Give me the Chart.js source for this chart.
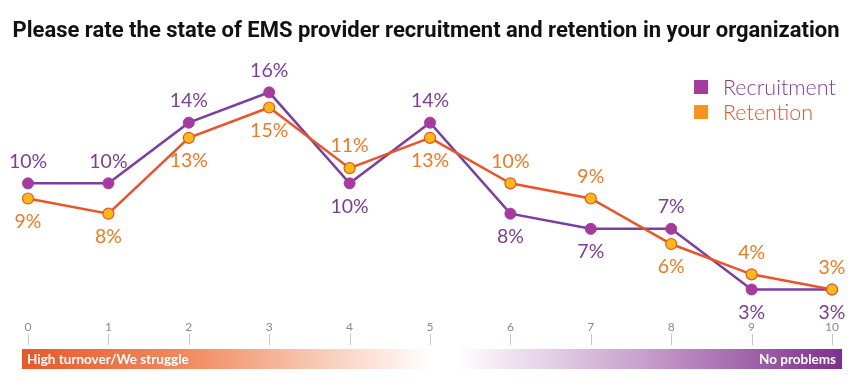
<!DOCTYPE html>
<html><head><meta charset="utf-8">
<script src="https://cdn.jsdelivr.net/npm/chart.js@4"></script>
<style>html,body{margin:0;padding:0;background:#fff}#w{width:860px;height:387px}</style>
</head><body><div id="w"><canvas id="c" width="860" height="387"></canvas></div>
<script>
const titleText = "Please rate the state of EMS provider recruitment and retention in your organization";
const categories = ["0","1","2","3","4","5","6","7","8","9","10"];
const recruitment = [10,10,14,16,10,14,8,7,7,3,3];
const retention = [9,8,13,15,11,13,10,9,6,4,3];
const recruitmentLabelPos = ["top","top","top","top","bottom","top","bottom","bottom","top","bottom","bottom"];
const retentionLabelPos = ["bottom","bottom","bottom","bottom","top","bottom","top","top","bottom","top","top"];
const scaleLeftText = "High turnover/We struggle";
const scaleRightText = "No problems";

const PURPLE_LINE = "#7b3f9f", PURPLE_PT = "#a63a9e", PURPLE_TXT = "#7d3c98";
const ORANGE_LINE = "#ea5428", ORANGE_PT = "#fcb813", ORANGE_TXT = "#f07a22";

const deco = {
  id: "deco",
  afterDraw(chart) {
    const ctx = chart.ctx, xs = chart.scales.x, ys = chart.scales.y;
    ctx.save();
    // title
    ctx.fillStyle = "#111";
    ctx.font = "bold 22px Roboto, 'Liberation Sans', sans-serif";
    ctx.textAlign = "center"; ctx.textBaseline = "middle";
    ctx.fillText(titleText, 426, 31);
    // legend
    const leg = [[ "Recruitment", PURPLE_PT, PURPLE_TXT, 87 ], [ "Retention", "#f7941d", "#e8512a", 112 ]];
    ctx.font = "300 21.5px Lato, 'Open Sans', sans-serif";
    ctx.textAlign = "left";
    leg.forEach(l => {
      ctx.fillStyle = l[1];
      ctx.fillRect(694, l[3]-7, 14, 14);
      ctx.fillStyle = l[2];
      ctx.fillText(l[0], 723, l[3]+1);
    });
    // data labels
    ctx.font = "19.5px Lato, 'Open Sans', sans-serif";
    ctx.textAlign = "center";
    const drawLabels = (data, pos, color) => {
      ctx.fillStyle = color;
      data.forEach((v, i) => {
        const x = xs.getPixelForValue(i), y = ys.getPixelForValue(v);
        ctx.fillText(v + "%", x, pos[i] === "top" ? y - 22 : y + 23);
      });
    };
    drawLabels(recruitment, recruitmentLabelPos, PURPLE_TXT);
    drawLabels(retention, retentionLabelPos, ORANGE_TXT);
    // x tick labels and marks
    ctx.font = "12px Lato, 'Open Sans', sans-serif";
    ctx.fillStyle = "#8a8a8a";
    ctx.strokeStyle = "#c8c8c8"; ctx.lineWidth = 1;
    categories.forEach((c, i) => {
      const x = xs.getPixelForValue(i);
      ctx.fillText(c, x, 327);
      ctx.beginPath(); ctx.moveTo(Math.round(x)+0.5, 334); ctx.lineTo(Math.round(x)+0.5, 345); ctx.stroke();
    });
    // gradient bar
    const x0 = 22, x1 = 842, y0 = 349, h = 20;
    const g = ctx.createLinearGradient(x0, 0, x1, 0);
    g.addColorStop(0, "#e8582a");
    g.addColorStop(0.2, "#f18a5e");
    g.addColorStop(0.5, "#ffffff");
    g.addColorStop(0.53, "#ffffff");
    g.addColorStop(0.75, "#c9a3cd");
    g.addColorStop(1, "#7e2f8e");
    ctx.fillStyle = g;
    ctx.fillRect(x0, y0, x1 - x0, h);
    ctx.fillStyle = "#fff";
    ctx.font = "bold 13.5px Lato, 'Open Sans', sans-serif";
    ctx.textAlign = "left";
    ctx.fillText(scaleLeftText, 27, y0 + h/2 + 1);
    ctx.textAlign = "right";
    ctx.fillText(scaleRightText, 836, y0 + h/2 + 1);
    ctx.restore();
  }
};

new Chart(document.getElementById("c"), {
  type: "line",
  data: {
    labels: categories,
    datasets: [
      { label: "Retention", data: retention, borderColor: ORANGE_LINE, borderWidth: 2.5,
        pointBackgroundColor: ORANGE_PT, pointBorderColor: ORANGE_LINE, pointBorderWidth: 1.2, pointRadius: 5.5, tension: 0 },
      { label: "Recruitment", data: recruitment, borderColor: PURPLE_LINE, borderWidth: 2.5,
        pointBackgroundColor: PURPLE_PT, pointBorderColor: PURPLE_PT, pointBorderWidth: 1, pointRadius: 5.5, tension: 0 }
    ]
  },
  options: {
    responsive: false, animation: false, devicePixelRatio: 1,
    layout: { padding: { left: 28, right: 28, top: 62, bottom: 52 } },
    plugins: { legend: { display: false }, title: { display: false }, tooltip: { enabled: false } },
    scales: {
      x: { display: false, offset: false },
      y: { display: false, min: 0, max: 18 }
    }
  },
  plugins: [deco]
});
</script></body></html>
